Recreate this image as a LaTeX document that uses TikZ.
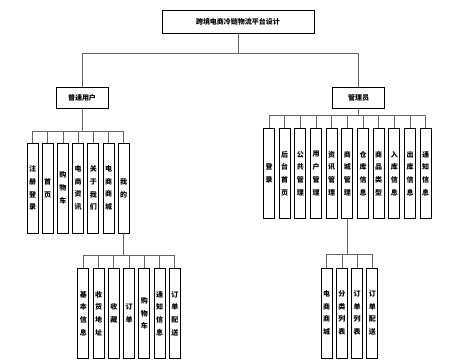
\documentclass[tikz,border=0pt]{standalone}
\usepackage{fontspec}
\newfontfamily\cjk{Noto Sans CJK SC}
\usetikzlibrary{positioning}
\definecolor{linkgray}{RGB}{100,100,100}

\begin{document}
\begin{tikzpicture}[x=1pt,y=-1pt,
  topbox/.style={draw,line width=0.8pt,minimum width=152pt,minimum height=23pt,inner sep=0pt,font=\cjk\bfseries\fontsize{7}{9}\selectfont},
  midbox/.style={draw,line width=0.8pt,minimum width=52pt,minimum height=21pt,inner sep=0pt,font=\cjk\bfseries\fontsize{7}{9}\selectfont},
  leaf/.style={draw,line width=0.8pt,minimum width=11pt,minimum height=90pt,inner sep=0pt,align=center,font=\cjk\bfseries\fontsize{7}{12.7}\selectfont},
  link/.style={draw=linkgray,line width=0.8pt}
]
  \useasboundingbox (0,0) rectangle (459,361);
  \node[topbox] (root) at (238,21.5) {跨境电商冷链物流平台设计};
  \node[midbox] (user) at (82,97.5) {普通用户};
  \node[midbox] (admin) at (358.5,97.5) {管理员};
  % 普通用户
  \node[leaf] (u1) at (32.5,188) {注\\册\\登\\录};
  \node[leaf,right=3.4pt of u1] (u2) {首\\页};
  \node[leaf,right=3.4pt of u2] (u3) {购\\物\\车};
  \node[leaf,right=3.4pt of u3] (u4) {电\\商\\资\\讯};
  \node[leaf,right=3.4pt of u4] (u5) {关\\于\\我\\们};
  \node[leaf,right=3.4pt of u5] (u6) {电\\商\\商\\城};
  \node[leaf,right=3.4pt of u6] (u7) {我\\的};
  % 管理员
  \node[leaf] (a1) at (269,173.5) {登\\录};
  \node[leaf,right=3.87pt of a1] (a2) {后\\台\\首\\页};
  \node[leaf,right=3.87pt of a2] (a3) {公\\共\\管\\理};
  \node[leaf,right=3.87pt of a3] (a4) {用\\户\\管\\理};
  \node[leaf,right=3.87pt of a4] (a5) {资\\讯\\管\\理};
  \node[leaf,right=3.87pt of a5] (a6) {商\\城\\管\\理};
  \node[leaf,right=3.87pt of a6] (a7) {仓\\库\\信\\息};
  \node[leaf,right=3.87pt of a7] (a8) {商\\品\\类\\型};
  \node[leaf,right=3.87pt of a8] (a9) {入\\库\\信\\息};
  \node[leaf,right=3.87pt of a9] (a10) {出\\库\\信\\息};
  \node[leaf,right=3.87pt of a10] (a11) {通\\知\\信\\息};
  % 我的
  \node[leaf] (m1) at (83.3,313.5) {基\\本\\信\\息};
  \node[leaf,right=3.45pt of m1] (m2) {收\\货\\地\\址};
  \node[leaf,right=3.45pt of m2] (m3) {收\\藏};
  \node[leaf,right=3.45pt of m3] (m4) {订\\单};
  \node[leaf,right=3.45pt of m4] (m5) {购\\物\\车};
  \node[leaf,right=3.45pt of m5] (m6) {通\\知\\信\\息};
  \node[leaf,right=3.45pt of m6] (m7) {订\\单\\配\\送};
  % 商城管理
  \node[leaf] (s1) at (326.7,313) {电\\商\\商\\城};
  \node[leaf,right=3.43pt of s1] (s2) {分\\类\\列\\表};
  \node[leaf,right=3.43pt of s2] (s3) {订\\单\\列\\表};
  \node[leaf,right=3.43pt of s3] (s4) {订\\单\\配\\送};
  % connectors
  \draw[link] (root.south) -- ++(0,20) -| (user.north);
  \draw[link] (root.south) -- ++(0,20) -| (admin.north);
  \foreach \i in {1,...,7} \draw[link] (user.south) -- ++(0,23) -| (u\i.north);
  \foreach \i in {1,...,11} \draw[link] (admin.south) -- ++(0,7) -| (a\i.north);
  \foreach \i in {1,...,7} \draw[link] (u7.south) -- ++(0,22) -| (m\i.north);
  \foreach \i in {1,...,4} \draw[link] (a6.south) -- ++(0,36) -| (s\i.north);
\end{tikzpicture}
\end{document}
